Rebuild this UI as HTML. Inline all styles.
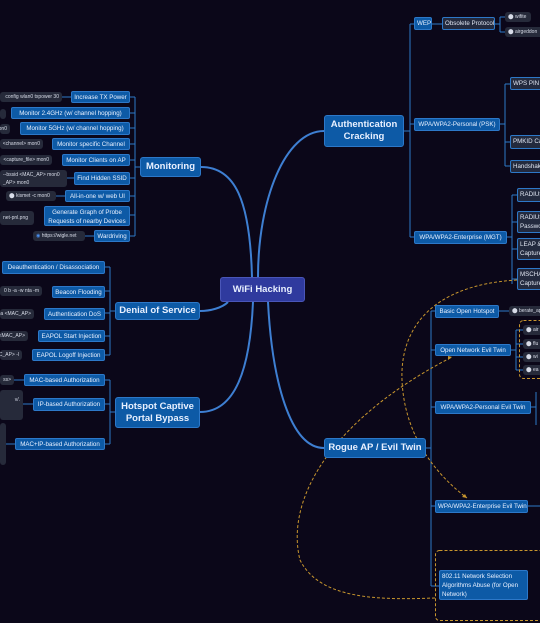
<!DOCTYPE html><html><head><meta charset="utf-8"><style>
body{margin:0;width:540px;height:623px;background:#0b0719;overflow:hidden;position:relative;font-family:"Liberation Sans",sans-serif}
.n{position:absolute;background:#0d5aa6;border:1px solid #2d78c8;border-radius:2px;color:#e8f0ff;font-size:6.2px;line-height:11px;white-space:nowrap;box-sizing:border-box;padding:0 2px;overflow:hidden;text-align:center}
.m{font-size:9.5px;font-weight:bold;text-align:center;line-height:12px;display:flex;align-items:center;justify-content:center;border-radius:3px}
.g{position:absolute;background:#262a3a;border-radius:3px;color:#d8dce8;font-size:5px;line-height:8px;white-space:nowrap;box-sizing:border-box;padding:1px 3px;overflow:hidden;display:flex;justify-content:flex-end}
.gl{justify-content:flex-start}
.k{background:#232a3e;border:1px solid #2d78c8;color:#e0e6f2;text-align:left}
svg{position:absolute;left:0;top:0}
</style></head><body>
<svg width="540" height="623">
<g stroke="#3e7fd2" stroke-width="2" fill="none">
<path d="M258,277 C258,200 285,131 324,131"/>
<path d="M252,277 C250,200 235,167 201,167"/>
<path d="M228,302 C222,308 210,311 200,311"/>
<path d="M253,302 C250,370 235,412 200,412"/>
<path d="M268,302 C272,380 290,448 324,448"/>
</g>
<g stroke="#2d78c8" stroke-width="1" fill="none">
<path d="M140,167 H135 M135,97 V236 M130,97H135 M130,113H135 M130,128H135 M130,144H135 M130,160H135 M130,178H135 M130,196H135 M130,215H135 M130,236H135"/>
<path d="M62,97H71 M56,196H65 M85,236H94 M67,178H74"/>
<path d="M115,311H110 M110,267V355 M105,267H110 M105,291H110 M105,313H110 M105,336H110 M105,355H110"/>
<path d="M115,412H110 M110,380V444 M105,380H110 M105,404H110 M105,444H110 M14,380H24 M23,404H33 M5,444H15"/>
<path d="M404,131H410 M410,24V237 M410,24H414 M410,124H414 M410,237H414 M432,24H442 M495,24H500 M500,17V32 M500,17H505 M500,32H505"/>
<path d="M500,124H505 M505,84V166 M505,84H510 M505,142H510 M505,166H510"/>
<path d="M507,237H512 M512,195V284 M512,195H517 M512,222H517 M512,249H517 M512,279H517"/>
<path d="M426,448H431 M431,311V586 M431,311H435 M431,350H435 M431,407H435 M431,506H435 M431,586H439 M499,311H509 M511,350H516 M516,330V370 M516,330H523 M516,344H523 M516,357H523 M516,370H523 M531,407H536 M536,392V425 M528,506H540"/>
</g>
<g stroke="#c8962e" stroke-width="1" fill="none" stroke-dasharray="3,2">
<path d="M517,280 C430,285 400,330 402,380 C404,430 430,470 467,498"/>
<path d="M435,598 C380,600 320,600 300,560 C285,500 330,420 452,357"/>
<rect x="519.5" y="320.5" width="30" height="58" rx="4"/>
<rect x="435.5" y="550.5" width="110" height="70" rx="4"/>
</g>
<path d="M467,498 l-5,-1 l3,-3z M452,357 l-4,3 l0,-4z" fill="#c8962e"/>
</svg>
<div class="n m" style="left:220px;top:277px;width:85px;height:25px;background:#2f3a9e;border-color:#4a56b8">WiFi Hacking</div>
<div class="n m" style="left:324px;top:115px;width:80px;height:32px">Authentication<br>Cracking</div>
<div class="n m" style="left:140px;top:157px;width:61px;height:20px">Monitoring</div>
<div class="n m" style="left:115px;top:302px;width:85px;height:18px">Denial of Service</div>
<div class="n m" style="left:115px;top:397px;width:85px;height:31px">Hotspot Captive<br>Portal Bypass</div>
<div class="n m" style="left:324px;top:438px;width:102px;height:20px">Rogue AP / Evil Twin</div>

<div class="n" style="left:71px;top:91px;width:59px;height:12px">Increase TX Power</div>
<div class="n" style="left:11px;top:107px;width:119px;height:12px">Monitor 2.4GHz (w/ channel hopping)</div>
<div class="n" style="left:20px;top:122px;width:110px;height:13px">Monitor 5GHz (w/ channel hopping)</div>
<div class="n" style="left:52px;top:138px;width:78px;height:12px">Monitor specific Channel</div>
<div class="n" style="left:62px;top:154px;width:68px;height:12px">Monitor Clients on AP</div>
<div class="n" style="left:74px;top:172px;width:56px;height:13px">Find Hidden SSID</div>
<div class="n" style="left:65px;top:190px;width:65px;height:12px">All-in-one w/ web UI</div>
<div class="n" style="left:44px;top:206px;width:86px;height:20px;line-height:9px;padding-top:1px">Generate Graph of Probe<br>Requests of nearby Devices</div>
<div class="n" style="left:94px;top:230px;width:36px;height:12px">Wardriving</div>
<div class="g" style="left:0;top:92px;width:62px;height:10px">config wlan0 txpower 30</div>
<div class="g" style="left:0;top:109px;width:4px;height:10px"></div>
<div class="g" style="left:0;top:124px;width:10px;height:10px">on0</div>
<div class="g" style="left:0;top:139px;width:43px;height:10px">&lt;channel&gt; mon0</div>
<div class="g" style="left:0;top:155px;width:52px;height:10px">&lt;capture_file&gt; mon0</div>
<div class="g gl" style="left:0;top:170px;width:67px;height:17px">--bssid &lt;MAC_AP&gt; mon0<br>_AP&gt; mon0</div>
<div class="g gl" style="left:6px;top:191px;width:50px;height:10px">⬤ kismet -c mon0</div>
<div class="g gl" style="left:0;top:211px;width:34px;height:14px;padding-top:3px">net-pnl.png</div>
<div class="g gl" style="left:33px;top:231px;width:52px;height:10px"><span style="color:#4a8ff0">◉</span>&nbsp;https://wigle.net</div>

<div class="n" style="left:2px;top:261px;width:103px;height:13px">Deauthentication / Disassociation</div>
<div class="n" style="left:52px;top:286px;width:53px;height:12px">Beacon Flooding</div>
<div class="n" style="left:44px;top:308px;width:61px;height:12px">Authentication DoS</div>
<div class="n" style="left:38px;top:330px;width:67px;height:12px">EAPOL Start Injection</div>
<div class="n" style="left:32px;top:349px;width:73px;height:12px">EAPOL Logoff Injection</div>
<div class="g" style="left:0;top:286px;width:42px;height:10px">0 b -a -w nta -m</div>
<div class="g" style="left:0;top:309px;width:34px;height:10px">-a &lt;MAC_AP&gt;</div>
<div class="g" style="left:0;top:331px;width:28px;height:10px">&lt;MAC_AP&gt;</div>
<div class="g" style="left:0;top:350px;width:22px;height:10px">C_AP&gt; -l</div>
<div class="n" style="left:24px;top:374px;width:81px;height:12px">MAC-based Authorization</div>
<div class="n" style="left:33px;top:398px;width:72px;height:13px">IP-based Authorization</div>
<div class="n" style="left:15px;top:438px;width:90px;height:12px">MAC+IP-based Authorization</div>
<div class="g" style="left:0;top:375px;width:14px;height:10px">ss&gt;</div>
<div class="g" style="left:0;top:390px;width:23px;height:30px;padding-top:6px">v/.</div>
<div class="g" style="left:0;top:423px;width:5px;height:42px"></div>

<div class="n" style="left:414px;top:17px;width:18px;height:13px">WEP</div>
<div class="n k" style="left:442px;top:17px;width:53px;height:13px">Obsolete Protocol</div>
<div class="g gl" style="left:505px;top:12px;width:26px;height:10px">⬤ wifite</div>
<div class="g gl" style="left:505px;top:27px;width:40px;height:10px">⬤ airgeddon</div>
<div class="n" style="left:414px;top:118px;width:86px;height:13px">WPA/WPA2-Personal (PSK)</div>
<div class="n k" style="left:510px;top:77px;width:40px;height:13px">WPS PIN A</div>
<div class="n k" style="left:510px;top:135px;width:40px;height:14px">PMKID Cap</div>
<div class="n k" style="left:510px;top:160px;width:40px;height:13px">Handshake</div>
<div class="n" style="left:414px;top:231px;width:93px;height:13px">WPA/WPA2-Enterprise (MGT)</div>
<div class="n k" style="left:517px;top:188px;width:33px;height:14px">RADIUS</div>
<div class="n k" style="left:517px;top:211px;width:33px;height:22px;line-height:9px;padding-top:1px">RADIUS<br>Passwo</div>
<div class="n k" style="left:517px;top:238px;width:33px;height:22px;line-height:9px;padding-top:1px">LEAP &amp;<br>Capture</div>
<div class="n k" style="left:517px;top:268px;width:33px;height:22px;line-height:9px;padding-top:1px">MSCHAP<br>Capture</div>

<div class="n" style="left:435px;top:305px;width:64px;height:13px">Basic Open Hotspot</div>
<div class="g gl" style="left:509px;top:306px;width:40px;height:10px">⬤ berate_ap</div>
<div class="n" style="left:435px;top:344px;width:76px;height:12px">Open Network Evil Twin</div>
<div class="g gl" style="left:523px;top:325px;width:25px;height:10px">⬤ air</div>
<div class="g gl" style="left:523px;top:339px;width:25px;height:10px">⬤ flu</div>
<div class="g gl" style="left:523px;top:352px;width:25px;height:10px">⬤ wi</div>
<div class="g gl" style="left:523px;top:365px;width:25px;height:10px">⬤ ea</div>
<div class="n" style="left:435px;top:401px;width:96px;height:13px">WPA/WPA2-Personal Evil Twin</div>
<div class="n" style="left:435px;top:500px;width:93px;height:13px">WPA/WPA2-Enterprise Evil Twin</div>
<div class="n" style="left:439px;top:570px;width:89px;height:30px;line-height:9px;padding-top:1px;white-space:normal;text-align:left">802.11 Network Selection Algorithms Abuse (for Open Network)</div>
</body></html>
